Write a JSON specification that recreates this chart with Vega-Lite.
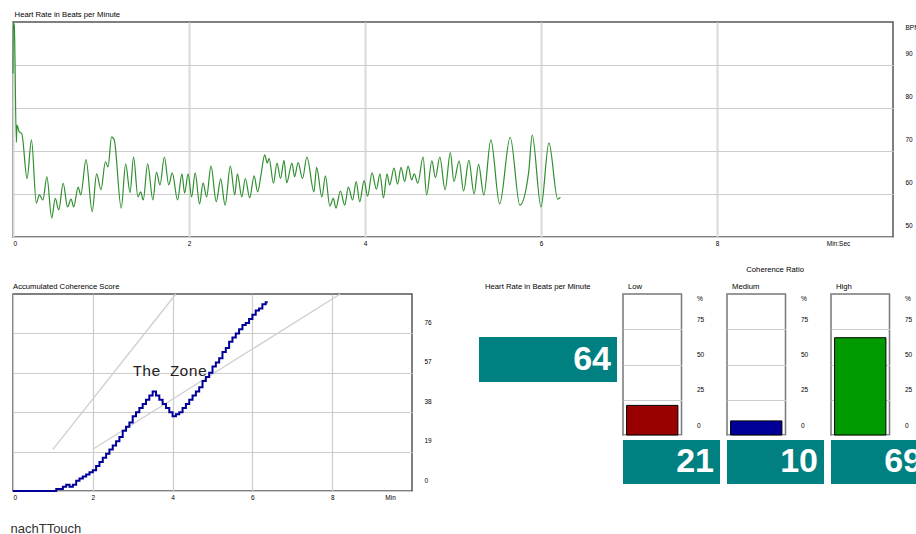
{
  "$schema": "https://vega.github.io/schema/vega-lite/v6.json",
  "padding": {"left": 8, "top": 10, "right": 0, "bottom": 0},
  "background": "white",
  "config": {
    "font": "Liberation Sans",
    "view": {"stroke": "#555555", "strokeWidth": 1.5},
    "axis": {
      "ticks": false, "domain": false,
      "labelFont": "Liberation Sans", "labelFontSize": 6.5, "labelColor": "#000000",
      "titleFont": "Liberation Sans", "titleFontWeight": "normal", "titleFontSize": 6.5, "titleColor": "#000000",
      "gridColor": "#cccccc", "gridWidth": 1.2
    },
    "title": {"fontSize": 7.7, "fontWeight": "normal", "font": "Liberation Sans", "color": "#000000", "anchor": "start"}
  },
  "datasets": {
    "hr": [
      {"min":0,"bpm":88},{"min":0.004,"bpm":100},{"min":0.015,"bpm":99},{"min":0.038,"bpm":72},{"min":0.045,"bpm":76},{"min":0.07,"bpm":74.5},{"min":0.1,"bpm":74},{"min":0.16,"bpm":63.6},{"min":0.21,"bpm":72.6},{"min":0.265,"bpm":57.9},{"min":0.3,"bpm":59.8},{"min":0.34,"bpm":58.6},{"min":0.385,"bpm":64},{"min":0.44,"bpm":54.4},{"min":0.48,"bpm":59},{"min":0.52,"bpm":56.3},{"min":0.57,"bpm":62.5},{"min":0.62,"bpm":57},{"min":0.66,"bpm":58.8},{"min":0.69,"bpm":57},{"min":0.74,"bpm":61.6},{"min":0.77,"bpm":59.8},{"min":0.83,"bpm":68},{"min":0.9,"bpm":55.9},{"min":0.95,"bpm":64.7},{"min":1.0,"bpm":61},{"min":1.05,"bpm":67.5},{"min":1.08,"bpm":66.3},{"min":1.12,"bpm":73.3},{"min":1.15,"bpm":72.6},{"min":1.23,"bpm":56.7},{"min":1.28,"bpm":67},{"min":1.33,"bpm":60.3},{"min":1.37,"bpm":68.6},{"min":1.42,"bpm":59.3},{"min":1.45,"bpm":60.5},{"min":1.48,"bpm":58.6},{"min":1.53,"bpm":67},{"min":1.59,"bpm":58.6},{"min":1.63,"bpm":65.1},{"min":1.67,"bpm":62.1},{"min":1.72,"bpm":68.6},{"min":1.77,"bpm":62.1},{"min":1.81,"bpm":64.9},{"min":1.87,"bpm":58.6},{"min":1.92,"bpm":64.7},{"min":1.95,"bpm":60.2},{"min":1.99,"bpm":64.7},{"min":2.03,"bpm":59.3},{"min":2.07,"bpm":64.9},{"min":2.12,"bpm":57.7},{"min":2.16,"bpm":62.6},{"min":2.2,"bpm":59.3},{"min":2.25,"bpm":66.5},{"min":2.31,"bpm":58.2},{"min":2.36,"bpm":63.5},{"min":2.41,"bpm":57.4},{"min":2.47,"bpm":66.5},{"min":2.52,"bpm":59.8},{"min":2.55,"bpm":64.7},{"min":2.6,"bpm":59.3},{"min":2.64,"bpm":63.6},{"min":2.69,"bpm":59.1},{"min":2.74,"bpm":64.2},{"min":2.78,"bpm":60.5},{"min":2.82,"bpm":64.7},{"min":2.86,"bpm":69.1},{"min":2.89,"bpm":67.2},{"min":2.91,"bpm":68.3},{"min":2.96,"bpm":62.5},{"min":3.0,"bpm":67.2},{"min":3.04,"bpm":63.6},{"min":3.08,"bpm":67.8},{"min":3.11,"bpm":62.6},{"min":3.17,"bpm":67.2},{"min":3.2,"bpm":64},{"min":3.24,"bpm":67.3},{"min":3.29,"bpm":63.6},{"min":3.34,"bpm":68.6},{"min":3.42,"bpm":60.5},{"min":3.45,"bpm":66.2},{"min":3.51,"bpm":59.3},{"min":3.55,"bpm":64.2},{"min":3.6,"bpm":57.2},{"min":3.64,"bpm":59},{"min":3.67,"bpm":56.7},{"min":3.72,"bpm":60.7},{"min":3.77,"bpm":57.4},{"min":3.81,"bpm":61.6},{"min":3.86,"bpm":58.6},{"min":3.9,"bpm":62.9},{"min":3.94,"bpm":58.2},{"min":3.99,"bpm":63.1},{"min":4.03,"bpm":59.5},{"min":4.08,"bpm":64.9},{"min":4.13,"bpm":61.1},{"min":4.17,"bpm":64.7},{"min":4.21,"bpm":59.1},{"min":4.25,"bpm":64.7},{"min":4.28,"bpm":62.1},{"min":4.33,"bpm":66},{"min":4.37,"bpm":62.3},{"min":4.41,"bpm":66.2},{"min":4.45,"bpm":62.9},{"min":4.49,"bpm":66.5},{"min":4.53,"bpm":63.3},{"min":4.56,"bpm":64.7},{"min":4.6,"bpm":62.5},{"min":4.66,"bpm":68.6},{"min":4.7,"bpm":59.8},{"min":4.76,"bpm":67.7},{"min":4.8,"bpm":63.8},{"min":4.85,"bpm":68.6},{"min":4.91,"bpm":61},{"min":4.97,"bpm":69.6},{"min":5.01,"bpm":62.9},{"min":5.07,"bpm":67.7},{"min":5.12,"bpm":60.7},{"min":5.18,"bpm":67.8},{"min":5.24,"bpm":60},{"min":5.29,"bpm":66.9},{"min":5.35,"bpm":59.8},{"min":5.43,"bpm":72.6},{"min":5.53,"bpm":57.7},{"min":5.65,"bpm":73.2},{"min":5.76,"bpm":57.4},{"min":5.86,"bpm":65.1},{"min":5.9,"bpm":73.7},{"min":6.0,"bpm":57},{"min":6.09,"bpm":71.9},{"min":6.19,"bpm":58.8},{"min":6.22,"bpm":59.3}
    ],
    "coh": [
      {"sec":0,"score":0},{"sec":60,"score":0},{"sec":65,"score":1},{"sec":75,"score":2},{"sec":80,"score":3},{"sec":85,"score":2},{"sec":90,"score":3},{"sec":95,"score":5},{"sec":100,"score":6},{"sec":105,"score":7},{"sec":110,"score":8},{"sec":115,"score":9},{"sec":120,"score":10},{"sec":125,"score":12},{"sec":130,"score":14},{"sec":135,"score":16},{"sec":140,"score":18},{"sec":145,"score":20},{"sec":150,"score":22},{"sec":155,"score":24},{"sec":160,"score":26},{"sec":165,"score":29},{"sec":170,"score":31},{"sec":175,"score":33},{"sec":180,"score":36},{"sec":185,"score":38},{"sec":190,"score":40},{"sec":195,"score":42},{"sec":200,"score":44},{"sec":205,"score":46},{"sec":210,"score":48},{"sec":215,"score":46},{"sec":220,"score":44},{"sec":225,"score":42},{"sec":230,"score":40},{"sec":235,"score":38},{"sec":240,"score":36},{"sec":245,"score":37},{"sec":250,"score":38},{"sec":255,"score":40},{"sec":260,"score":42},{"sec":265,"score":44},{"sec":270,"score":46},{"sec":275,"score":48},{"sec":280,"score":50},{"sec":285,"score":53},{"sec":290,"score":55},{"sec":295,"score":57},{"sec":300,"score":60},{"sec":305,"score":62},{"sec":310,"score":64},{"sec":315,"score":67},{"sec":320,"score":69},{"sec":325,"score":72},{"sec":330,"score":74},{"sec":335,"score":76},{"sec":340,"score":78},{"sec":345,"score":80},{"sec":350,"score":81},{"sec":355,"score":83},{"sec":360,"score":85},{"sec":365,"score":87},{"sec":370,"score":88},{"sec":375,"score":90},{"sec":380,"score":91},{"sec":383,"score":91}
    ],
    "zone": [
      {"sec":60,"score":20.1,"sec2":245,"score2":95},
      {"sec":120,"score":20.1,"sec2":492,"score2":95}
    ],
    "ratio": [
      {"level":"Low","pct":21},{"level":"Medium","pct":10},{"level":"High","pct":69}
    ],
    "current": [{"bpm":64}]
  },
  "spacing": 57,
  "bounds": "flush",
  "vconcat": [
    {
      "width": 880, "height": 215,
      "title": {"text": "Heart Rate in Beats per Minute", "dx": 4, "offset": 1},
      "data": {"name": "hr"},
      "mark": {"type": "line", "interpolate": "monotone", "color": "#2f8f2f", "strokeWidth": 1.2},
      "encoding": {
        "x": {"field": "min", "type": "quantitative",
          "scale": {"domain": [0, 10], "nice": false},
          "axis": {"orient": "bottom", "values": [0, 2, 4, 6, 8, 9.375], "title": null,
            "labelExpr": "datum.value > 9 ? 'Min:Sec' : datum.label", "labelPadding": 3,
            "gridWidth": 2,
            "gridColor": {"condition": {"test": "datum.value > 9", "value": "transparent"}, "value": "#d9d9d9"}}},
        "y": {"field": "bpm", "type": "quantitative",
          "scale": {"domain": [50, 100], "nice": false, "zero": false},
          "axis": {"orient": "right", "values": [50, 60, 70, 80, 90], "labelOffset": -12, "labelPadding": 12,
            "title": "BPM", "titleAngle": 0, "titleAlign": "left", "titleBaseline": "middle", "titleX": 12, "titleY": 5}}
      }
    },
    {
      "hconcat": [
        {
          "width": 399, "height": 197,
          "title": {"text": "Accumulated Coherence Score", "dx": 4, "offset": 3},
          "layer": [
            {
              "data": {"name": "zone"},
              "mark": {"type": "rule", "color": "#cfcfcf", "strokeWidth": 1.3},
              "encoding": {
                "x": {"field": "sec", "type": "quantitative",
                  "scale": {"domain": [0, 600], "nice": false},
                  "axis": {"orient": "bottom", "values": [0, 120, 240, 360, 480, 567],
                    "labelExpr": "datum.value > 500 ? 'Min' : format(datum.value / 60, 'd')", "labelPadding": 3,
                    "gridColor": {"condition": {"test": "datum.value > 500", "value": "transparent"}, "value": "#cccccc"},
                    "title": "nachTTouch", "titleX": -3, "titleY": 37, "titleAlign": "left", "titleBaseline": "middle",
                    "titleFontSize": 13, "titleColor": "#333333"}},
                "y": {"field": "score", "type": "quantitative",
                  "scale": {"domain": [0, 95], "nice": false},
                  "axis": {"orient": "right", "values": [0, 19, 38, 57, 76], "labelOffset": -11, "labelPadding": 12, "title": null}},
                "x2": {"field": "sec2"},
                "y2": {"field": "score2"}
              }
            },
            {
              "data": {"name": "coh"},
              "mark": {"type": "line", "interpolate": "step-after", "color": "#000099", "strokeWidth": 2},
              "encoding": {
                "x": {"field": "sec", "type": "quantitative"},
                "y": {"field": "score", "type": "quantitative"}
              }
            },
            {
              "data": {"values": [{"sec": 236, "score": 57.9, "label": "The Zone"}]},
              "mark": {"type": "text", "font": "Liberation Mono", "fontSize": 15.5, "color": "#222222", "baseline": "middle"},
              "encoding": {
                "x": {"field": "sec", "type": "quantitative"},
                "y": {"field": "score", "type": "quantitative"},
                "text": {"field": "label"}
              }
            }
          ]
        },
        {
          "spacing": 5,
          "bounds": "full",
          "hconcat": [
            {
              "spacing": 20,
              "bounds": "flush",
              "vconcat": [
                {
                  "width": 138, "height": 23,
                  "title": {"text": "Heart Rate in Beats per Minute", "dx": 6, "offset": 3},
                  "view": {"stroke": null},
                  "data": {"name": "current"},
                  "mark": {"type": "text"},
                  "encoding": {"text": {"value": ""}}
                },
                {
                  "width": 138, "height": 45,
                  "view": {"fill": "#008080", "stroke": null},
                  "data": {"name": "current"},
                  "mark": {"type": "text", "align": "right", "baseline": "middle", "dx": -6, "fontSize": 34, "fontWeight": "bold", "color": "#ffffff"},
                  "encoding": {"text": {"field": "bpm", "type": "quantitative"}, "x": {"value": "width"}}
                }
              ]
            },
            {
              "title": {"text": "Coherence Ratio", "anchor": "middle", "offset": 9},
              "spacing": 6,
              "bounds": "full",
              "hconcat": [
                {
                  "spacing": 5,
                  "bounds": "flush",
                  "vconcat": [
                    {
                      "width": 58.5, "height": 141,
                      "title": {"text": "Low", "dx": 5, "offset": 3},
                      "view": {"stroke": "#777777", "strokeWidth": 1.5},
                      "data": {"name": "ratio"},
                      "transform": [{"filter": "datum.level == 'Low'"}],
                      "mark": {"type": "bar", "color": "#990000", "stroke": "#000000", "strokeWidth": 1},
                      "encoding": {
                        "x": {"field": "level", "type": "nominal", "axis": null, "scale": {"paddingInner": 0, "paddingOuter": 0.07}},
                        "y": {"field": "pct", "type": "quantitative", "scale": {"domain": [0, 100], "nice": false},
                          "axis": {"orient": "right", "values": [0, 25, 50, 75], "labelOffset": -10, "labelPadding": 15,
                            "title": "%", "titleAngle": 0, "titleAlign": "left", "titleBaseline": "middle", "titleX": 15, "titleY": 4}}
                      }
                    },
                    {
                      "width": 97, "height": 44,
                      "view": {"fill": "#008080", "stroke": null},
                      "data": {"name": "ratio"},
                      "transform": [{"filter": "datum.level == 'Low'"}],
                      "mark": {"type": "text", "align": "right", "baseline": "middle", "dx": -6, "fontSize": 34, "fontWeight": "bold", "color": "#ffffff"},
                      "encoding": {"text": {"field": "pct", "type": "quantitative"}, "x": {"value": "width"}}
                    }
                  ]
                },
                {
                  "spacing": 5,
                  "bounds": "flush",
                  "vconcat": [
                    {
                      "width": 58.5, "height": 141,
                      "title": {"text": "Medium", "dx": 5, "offset": 3},
                      "view": {"stroke": "#777777", "strokeWidth": 1.5},
                      "data": {"name": "ratio"},
                      "transform": [{"filter": "datum.level == 'Medium'"}],
                      "mark": {"type": "bar", "color": "#000099", "stroke": "#000000", "strokeWidth": 1},
                      "encoding": {
                        "x": {"field": "level", "type": "nominal", "axis": null, "scale": {"paddingInner": 0, "paddingOuter": 0.07}},
                        "y": {"field": "pct", "type": "quantitative", "scale": {"domain": [0, 100], "nice": false},
                          "axis": {"orient": "right", "values": [0, 25, 50, 75], "labelOffset": -10, "labelPadding": 15,
                            "title": "%", "titleAngle": 0, "titleAlign": "left", "titleBaseline": "middle", "titleX": 15, "titleY": 4}}
                      }
                    },
                    {
                      "width": 97, "height": 44,
                      "view": {"fill": "#008080", "stroke": null},
                      "data": {"name": "ratio"},
                      "transform": [{"filter": "datum.level == 'Medium'"}],
                      "mark": {"type": "text", "align": "right", "baseline": "middle", "dx": -6, "fontSize": 34, "fontWeight": "bold", "color": "#ffffff"},
                      "encoding": {"text": {"field": "pct", "type": "quantitative"}, "x": {"value": "width"}}
                    }
                  ]
                },
                {
                  "spacing": 5,
                  "bounds": "flush",
                  "vconcat": [
                    {
                      "width": 58.5, "height": 141,
                      "title": {"text": "High", "dx": 5, "offset": 3},
                      "view": {"stroke": "#777777", "strokeWidth": 1.5},
                      "data": {"name": "ratio"},
                      "transform": [{"filter": "datum.level == 'High'"}],
                      "mark": {"type": "bar", "color": "#009900", "stroke": "#000000", "strokeWidth": 1},
                      "encoding": {
                        "x": {"field": "level", "type": "nominal", "axis": null, "scale": {"paddingInner": 0, "paddingOuter": 0.07}},
                        "y": {"field": "pct", "type": "quantitative", "scale": {"domain": [0, 100], "nice": false},
                          "axis": {"orient": "right", "values": [0, 25, 50, 75], "labelOffset": -10, "labelPadding": 15,
                            "title": "%", "titleAngle": 0, "titleAlign": "left", "titleBaseline": "middle", "titleX": 15, "titleY": 4}}
                      }
                    },
                    {
                      "width": 97, "height": 44,
                      "view": {"fill": "#008080", "stroke": null},
                      "data": {"name": "ratio"},
                      "transform": [{"filter": "datum.level == 'High'"}],
                      "mark": {"type": "text", "align": "right", "baseline": "middle", "dx": -6, "fontSize": 34, "fontWeight": "bold", "color": "#ffffff"},
                      "encoding": {"text": {"field": "pct", "type": "quantitative"}, "x": {"value": "width"}}
                    }
                  ]
                }
              ]
            }
          ]
        }
      ],
      "spacing": 67,
      "bounds": "flush"
    }
  ]
}
